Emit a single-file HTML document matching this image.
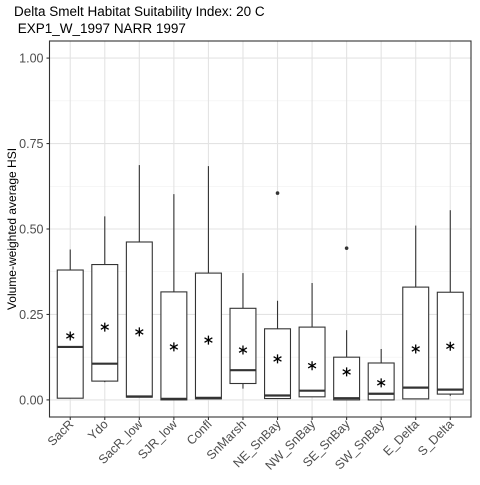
<!DOCTYPE html>
<html><head><meta charset="utf-8"><style>
body{margin:0;background:#fff;}
svg text{font-family:"Liberation Sans",Arial,sans-serif;}
</style></head><body>
<svg id="chart" width="480" height="480" xmlns="http://www.w3.org/2000/svg">
<rect width="480" height="480" fill="#fff"/>
<text x="14" y="16" font-size="13.5" fill="#000">Delta Smelt Habitat Suitability Index: 20 C</text>
<text x="14" y="33" font-size="13.5" fill="#000">&#160;EXP1_W_1997 NARR 1997</text>
<g id="grid"></g><g id="marks"></g><g id="axes"></g>
<text transform="translate(16,229) rotate(-90)" text-anchor="middle" font-size="12" fill="#000">Volume-weighted average HSI</text>
</svg>
<script>
const categories=["SacR","Ydo","SacR_low","SJR_low","Confl","SnMarsh","NE_SnBay","NW_SnBay","SE_SnBay","SW_SnBay","E_Delta","S_Delta"];
const whiskerLow=[0.005,0.052,0.008,0.0,0.003,0.033,0.004,0.009,0.0,0.0,0.003,0.012];
const q1=[0.005,0.055,0.008,0.0,0.003,0.048,0.004,0.009,0.0,0.0,0.003,0.017];
const medians=[0.155,0.106,0.01,0.003,0.006,0.087,0.013,0.027,0.005,0.018,0.036,0.03];
const q3=[0.38,0.396,0.462,0.316,0.371,0.268,0.208,0.213,0.125,0.108,0.33,0.315];
const whiskerHigh=[0.44,0.537,0.687,0.602,0.684,0.371,0.29,0.342,0.204,0.149,0.51,0.555];
const means=[0.187,0.213,0.199,0.155,0.175,0.146,0.12,0.1,0.082,0.05,0.149,0.157];
const outlierCats=[6,8];
const outlierVals=[0.605,0.444];
const yTicks=[0,0.25,0.5,0.75,1];
const yTickLabels=["0.00","0.25","0.50","0.75","1.00"];

const L=49.5,R=471,T=41,B=417;
const NS="http://www.w3.org/2000/svg";
const y=v=>B-(v+0.05)/1.1*(B-T);
const unit=(R-L)/12.2;
const x=i=>L+(i+0.6)*unit;
function mk(tag,attrs,parent){const e=document.createElementNS(NS,tag);for(const k in attrs)e.setAttribute(k,attrs[k]);parent.appendChild(e);return e;}
const grid=document.getElementById('grid'),marks=document.getElementById('marks'),axes=document.getElementById('axes');
const bg=mk('rect',{x:L,y:T,width:R-L,height:B-T,fill:'#fff'},grid);


for(let k=0;k<yTicks.length-1;k++){const g=mk('line',{x1:L,x2:R,y1:y((yTicks[k]+yTicks[k+1])/2),y2:y((yTicks[k]+yTicks[k+1])/2),stroke:'#f0f0f0','stroke-width':0.6},grid);

}
yTicks.forEach((t,k)=>{const g=mk('line',{x1:L,x2:R,y1:y(t),y2:y(t),stroke:'#e3e3e3','stroke-width':1.1},grid);


const tk=mk('line',{x1:L-3,x2:L,y1:y(t),y2:y(t),stroke:'#333','stroke-width':1.1},axes);


const tx=mk('text',{x:L-6,y:y(t)+4.5,'text-anchor':'end','font-size':12.5,fill:'#4d4d4d'},axes);tx.textContent=yTickLabels[k];

});
categories.forEach((c,i)=>{const g=mk('line',{x1:x(i),x2:x(i),y1:T,y2:B,stroke:'#e3e3e3','stroke-width':1.1},grid);


const grp=mk('g',{},marks);


const hw=0.375*unit;
mk('line',{x1:x(i),x2:x(i),y1:y(whiskerHigh[i]),y2:y(q3[i]),stroke:'#333','stroke-width':1.1},grp);
mk('line',{x1:x(i),x2:x(i),y1:y(q1[i]),y2:y(whiskerLow[i]),stroke:'#333','stroke-width':1.1},grp);
mk('rect',{x:x(i)-hw,y:y(q3[i]),width:2*hw,height:Math.max(0.5,y(q1[i])-y(q3[i])),fill:'#fff',stroke:'#333','stroke-width':1.1},grp);
mk('line',{x1:x(i)-hw,x2:x(i)+hw,y1:y(medians[i]),y2:y(medians[i]),stroke:'#333','stroke-width':2.2},grp);
const cx=x(i),cy=y(means[i]),r=4.5;
const m=mk('path',{d:`M${cx} ${cy-r}V${cy+r}M${cx-r*0.87} ${cy-r*0.5}L${cx+r*0.87} ${cy+r*0.5}M${cx-r*0.87} ${cy+r*0.5}L${cx+r*0.87} ${cy-r*0.5}`,stroke:'#000','stroke-width':1.3,fill:'none'},grp);


const tk=mk('line',{x1:x(i),x2:x(i),y1:B,y2:B+3,stroke:'#333','stroke-width':1.1},axes);


const tx=mk('text',{transform:`translate(${x(i)+4},${B+8}) rotate(-45)`,'text-anchor':'end','font-size':12.5,fill:'#4d4d4d'},axes);tx.textContent=c;

});
outlierCats.forEach((ci,k)=>{const o=mk('circle',{cx:x(ci),cy:y(outlierVals[k]),r:1.8,fill:'#333'},marks);

});
const fr=mk('rect',{x:L,y:T,width:R-L,height:B-T,fill:'none',stroke:'#333','stroke-width':1.1},axes);


</script>
</body></html>
